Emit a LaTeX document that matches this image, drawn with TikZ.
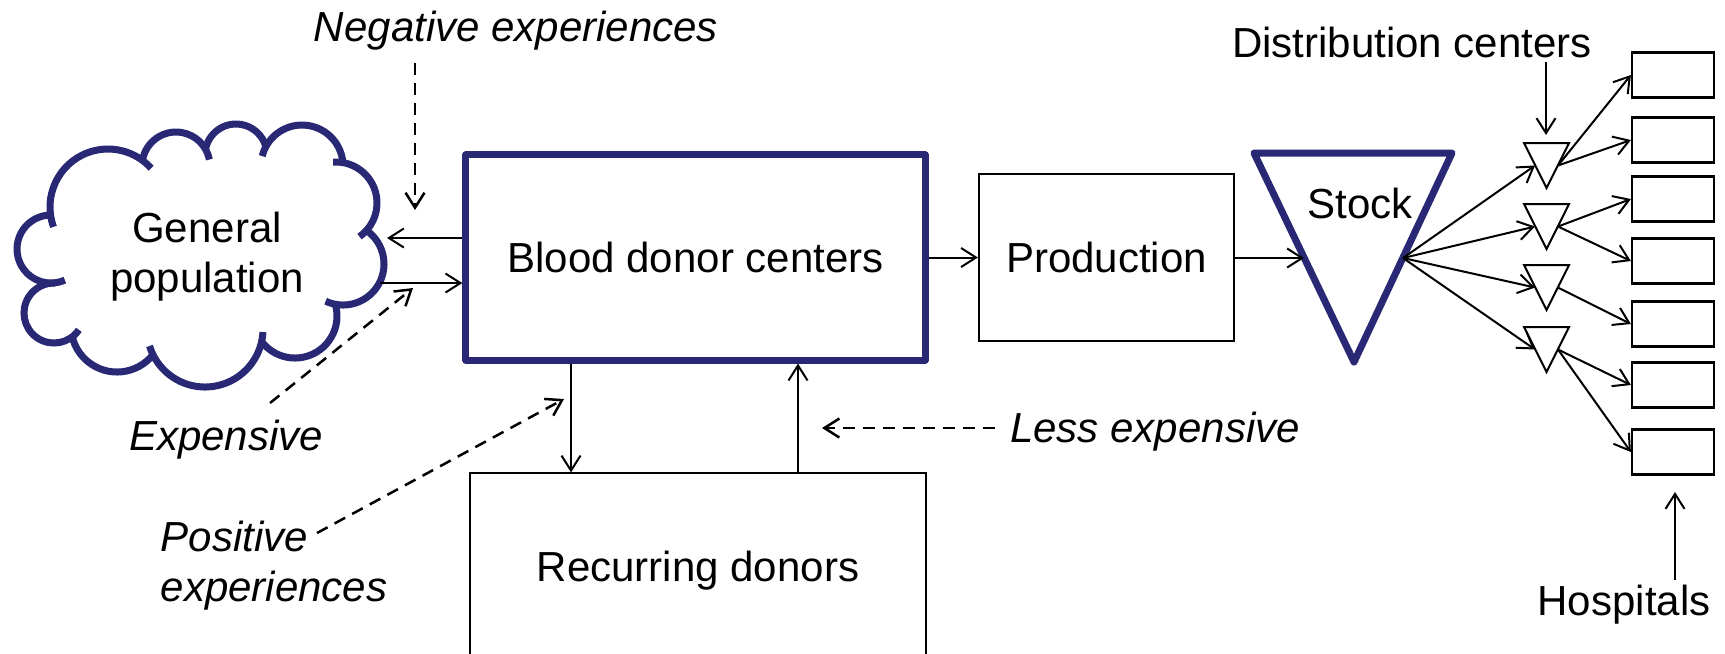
\documentclass[tikz,border=0pt]{standalone}
\usepackage{fontspec}
\setmainfont{Liberation Sans}
\usetikzlibrary{arrows.meta}
\definecolor{navy}{RGB}{40,40,116}
\begin{document}
\begin{tikzpicture}[x=0.01cm,y=0.01cm,
  every node/.style={font=\fontsize{11.95pt}{14.2pt}\selectfont, inner sep=0pt},
  lbl/.style={font=\fontsize{11.95pt}{14.2pt}\selectfont\itshape},
  thinline/.style={line width=0.02cm},
  arr/.style={line width=0.02cm, -{Straight Barb[length=0.15cm,width=0.19cm]}},
  darr/.style={arr, line width=0.025cm, dash pattern=on 0.12cm off 0.08cm},
  heavy/.style={draw=navy, line width=0.07cm, line join=round},
  cloudline/.style={draw=navy, line width=0.07cm},
  box/.style={draw, line width=0.02cm},
  hosp/.style={draw, line width=0.022cm, minimum width=0.82cm, minimum height=0.45cm},
]
\useasboundingbox (0,0) rectangle (1725,-653);
\clip (0,0) rectangle (1725,-653);

% ---- general population cloud (arcs with inner stubs)
\foreach \cx/\cy/\r/\a/\b in {51/249/34/294/92, 108/207/58/200/42,
    176/166/34/170/11, 236/155/31/170.5/15, 302/166/41/166/5.6,
    336/203/41/94/-55, 343/264/41/55/-115, 295/316/42/14/-142,
    205/329/58/-3/-163, 117/326/46/-39/-166, 54/313/30/326/88}
  \draw[cloudline] (\cx,-\cy) ++(\a:\r) arc[start angle=\a, end angle=\b, radius=\r];
\node[align=center] (pop) at (207,-257) {General\\population};
\coordinate (popIn) at (387,-238);
\coordinate (popOut) at (380,-283);

% ---- main boxes
\node[heavy, minimum width=4.59cm, minimum height=2.05cm] (blood) at (695.5,-257.5) {Blood donor centers};
\node[box, minimum width=2.55cm, minimum height=1.67cm] (prod) at (1106.5,-257.5) {Production};
\node[box, minimum width=4.56cm, minimum height=1.95cm] (rec) at (698,-571) {Recurring donors};

% ---- stock
\coordinate (sA) at (1254,-153);
\coordinate (sB) at (1452,-153);
\coordinate (sC) at (1354,-362);
\draw[heavy] (sA) -- (sB) -- (sC) -- cycle;
\node[anchor=base] (stock) at (1360,-218) {Stock};
\coordinate (stockIn) at (1304,-258);
\coordinate (stockOut) at (1403,-258);

% ---- distribution centers
\foreach \i/\t in {1/143, 2/204, 3/265, 4/327} {
  \draw[thinline] (1524,-\t) -- (1569,-\t) -- (1546.5,-\t-45) -- cycle;
  \coordinate (dL\i) at (1535,-\t-22.5);
  \coordinate (dR\i) at (1558,-\t-22.5);
}

% ---- hospitals
\foreach \i/\y in {1/75, 2/140, 3/199, 4/261, 5/324, 6/385, 7/452}
  \node[hosp] (h\i) at (1673,-\y) {};

% ---- labels
\node[lbl, anchor=base] (neg) at (516,-41) {Negative experiences};
\node[lbl, anchor=base] (exp) at (226,-450) {Expensive};
\node[lbl, anchor=west, align=left] (pos) at (160,-566) {Positive\\experiences};
\node[lbl, anchor=base] (less) at (1155,-442) {Less expensive};
\node[anchor=base] (dist) at (1412,-57) {Distribution centers};
\node[anchor=base] (hosplbl) at (1624,-615) {Hospitals};

% ---- flows
\draw[arr] (blood.west |- popIn) -- (popIn);
\draw[arr] (popOut) -- (blood.west |- popOut);
\draw[arr] (blood.east) -- (prod.west);
\draw[arr] (prod.east |- stockIn) -- (stockIn);
\coordinate (xdown) at (571,0);
\coordinate (xup) at (798,0);
\draw[arr] (blood.south -| xdown) -- (rec.north -| xdown);
\draw[arr] (rec.north -| xup) -- (blood.south -| xup);

\foreach \i in {1,...,4} \draw[arr] (stockOut) -- (dL\i);
\draw[arr] (dR1) -- (h1.west);
\draw[arr] (dR1) -- (h2.west);
\draw[arr] (dR2) -- (h3.west);
\draw[arr] (dR2) -- (h4.west);
\draw[arr] (dR3) -- (h5.west);
\draw[arr] (dR4) -- (h6.west);
\draw[arr] (dR4) -- (h7.west);

\coordinate (distS) at (1546,-62);
\coordinate (distT) at (1546,-135);
\draw[arr] (distS) -- (distT);
\coordinate (hospS) at (1675,-580);
\coordinate (hospT) at (1675,-492);
\draw[arr] (hospS) -- (hospT);

% ---- influences (dashed)
\coordinate (negS) at (415,-63);
\coordinate (negT) at (415,-210);
\draw[darr] (negS) -- (negT);
\coordinate (expS) at (270,-403);
\coordinate (expT) at (413,-288);
\draw[darr] (expS) -- (expT);
\coordinate (posS) at (317,-533);
\coordinate (posT) at (564,-399);
\draw[darr] (posS) -- (posT);
\coordinate (lessT) at (822,-428);
\draw[darr] ([xshift=-0.14cm]less.west |- lessT) -- (lessT);
\end{tikzpicture}
\end{document}
